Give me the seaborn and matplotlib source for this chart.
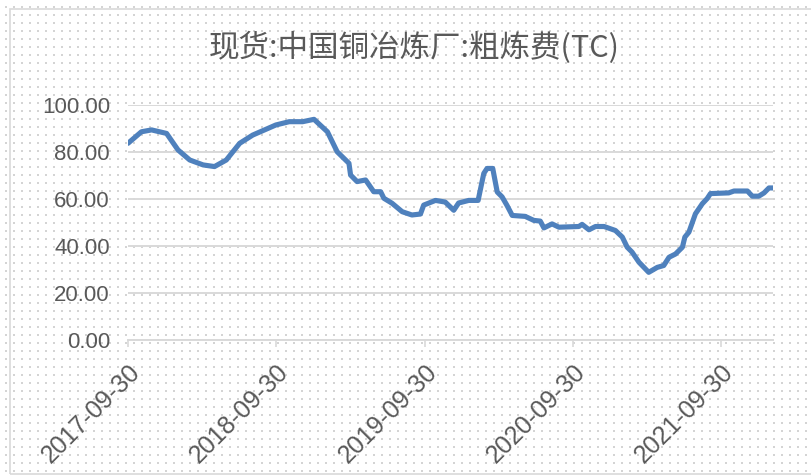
import numpy as np
import pandas as pd
import matplotlib
matplotlib.use("Agg")
import matplotlib.pyplot as plt
import matplotlib.dates as mdates
from matplotlib.patches import Rectangle
import seaborn as sns

# ---- data ----
dates = [
    "2017-09-30", "2017-11-02", "2017-11-27", "2018-01-03", "2018-01-31", "2018-03-01",
    "2018-04-03", "2018-05-01", "2018-05-30", "2018-07-02", "2018-08-03", "2018-09-29",
    "2018-11-01", "2018-12-04", "2019-01-01", "2019-02-03", "2019-02-27", "2019-03-28",
    "2019-04-01", "2019-04-17", "2019-05-08", "2019-05-28", "2019-06-14", "2019-06-22",
    "2019-07-12", "2019-08-06", "2019-08-30", "2019-09-20", "2019-09-28", "2019-10-27",
    "2019-11-20", "2019-12-11", "2019-12-23", "2020-01-17", "2020-02-09", "2020-02-23",
    "2020-03-02", "2020-03-16", "2020-03-27", "2020-04-08", "2020-04-20", "2020-05-03",
    "2020-06-04", "2020-06-25", "2020-07-11", "2020-07-20", "2020-08-09", "2020-08-26",
    "2020-10-14", "2020-10-22", "2020-11-08", "2020-11-24", "2020-12-15", "2021-01-12",
    "2021-01-29", "2021-02-10", "2021-02-22", "2021-03-11", "2021-04-04", "2021-04-25",
    "2021-05-11", "2021-05-24", "2021-06-09", "2021-06-26", "2021-07-02", "2021-07-12",
    "2021-07-28", "2021-08-14", "2021-08-26", "2021-09-03", "2021-10-18", "2021-10-31",
    "2021-12-03", "2021-12-15", "2021-12-31", "2022-01-13", "2022-01-25", "2022-02-04",
]
tc_values = [
    83.7, 88.6, 89.4, 87.9, 80.9, 76.6,
    74.5, 73.8, 76.6, 83.7, 87.2, 91.5,
    92.9, 92.9, 93.9, 88.6, 80.1, 75.2,
    70.2, 67.4, 68.1, 63.1, 63.1, 60.3,
    58.2, 54.6, 53.2, 53.6, 57.4, 59.4,
    58.7, 55.2, 58.3, 59.4, 59.4, 70.9,
    73.0, 73.0, 63.0, 60.9, 57.3, 53.0,
    52.6, 50.9, 50.6, 47.7, 49.4, 48.0,
    48.3, 49.2, 46.9, 48.3, 48.3, 46.6,
    43.8, 39.5, 37.4, 33.1, 28.8, 30.9,
    31.7, 35.2, 36.6, 39.5, 43.8, 45.9,
    53.7, 58.0, 60.2, 62.3, 62.6, 63.4,
    63.4, 61.2, 61.2, 62.6, 64.7, 64.7,
]
x_tick_labels = ["2017-09-30", "2018-09-30", "2019-09-30", "2020-09-30", "2021-09-30"]
y_ticks = [0, 20, 40, 60, 80, 100]
title_text = "现货:中国铜冶炼厂:粗炼费(TC)"

df = pd.DataFrame({"date": pd.to_datetime(dates), "value": tc_values})

W, H = 812, 476
fig = plt.figure(figsize=(W / 100, H / 100), dpi=100, facecolor="white")

# dotted background pattern (decoration)
bg = np.ones((H, W, 3))
dot = np.array([212, 212, 212]) / 255.0
for yy in range(5, H, 8):
    for xx in range(5, W, 8):
        bg[H - 1 - yy:H + 1 - yy, xx:xx + 2] = dot
fig.figimage(bg, 0, 0, zorder=0)

# chart border
fig.add_artist(Rectangle((10 / W, 1 - 474 / H), 2.0, (474 - 9) / H,
                         transform=fig.transFigure, fill=False,
                         edgecolor="#d9d9d9", lw=1.2, zorder=1))

ax = fig.add_axes([128 / W, 1 - 340 / H, (773 - 128) / W, (340 - 105) / H])
ax.set_facecolor("none")
ax.set_zorder(3)

sns.lineplot(data=df, x="date", y="value", ax=ax, color="#4f81bd", lw=3.7,
             solid_joinstyle="round", solid_capstyle="round", zorder=3)

ax.set_xlim(df["date"].iloc[0], df["date"].iloc[-1])
ax.set_ylim(0, 100)
ax.set_yticks(y_ticks)
ax.set_yticklabels([f"{v:.2f}" for v in y_ticks])
ax.yaxis.grid(True, color="#d9d9d9", lw=1.4)
ax.set_axisbelow(True)

ax.set_xticks(pd.to_datetime(x_tick_labels))
ax.set_xticklabels(x_tick_labels)
ax.set_xlabel("")
ax.set_ylabel("")

for s in ["left", "top", "right"]:
    ax.spines[s].set_visible(False)
ax.spines["bottom"].set_color("#d9d9d9")
ax.spines["bottom"].set_linewidth(1.4)

ax.tick_params(axis="y", length=0, pad=13, labelsize=16, labelcolor="#595959")
ax.tick_params(axis="x", length=5, width=1.2, color="#d9d9d9", pad=9,
               labelsize=18, labelcolor="#595959")
for lab in ax.get_yticklabels():
    lab.set_fontfamily(["Liberation Sans", "DejaVu Sans"])
for lab in ax.get_xticklabels():
    lab.set_fontfamily(["Liberation Sans", "DejaVu Sans"])
    lab.set_rotation(45)
    lab.set_ha("right")
    lab.set_va("top")
    lab.set_rotation_mode("anchor")

fig.text(414 / W, 1 - 48 / H, title_text, ha="center", va="center",
         fontsize=22, color="#595959", fontweight="light",
         family=["Noto Sans CJK SC", "DejaVu Sans"], zorder=4)

fig.savefig("out.png", dpi=100, facecolor="white")
